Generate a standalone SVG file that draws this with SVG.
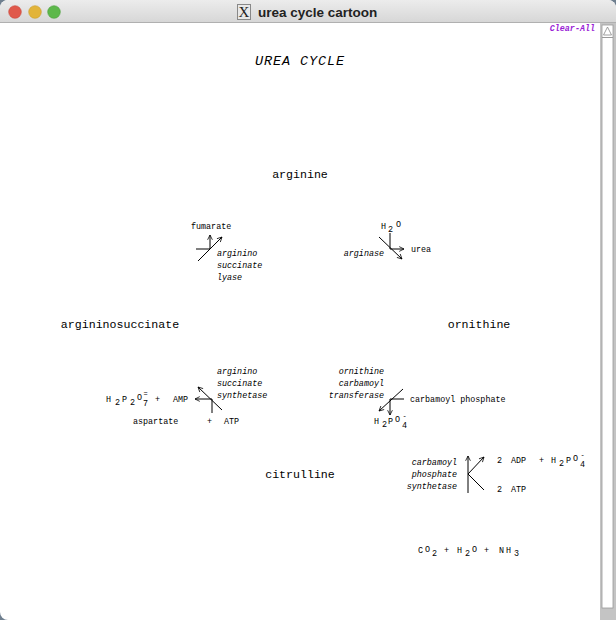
<svg xmlns="http://www.w3.org/2000/svg" width="616" height="620" viewBox="0 0 616 620">
<defs>
<linearGradient id="tb" x1="0" y1="0" x2="0" y2="1"><stop offset="0" stop-color="#ececec"/><stop offset="1" stop-color="#d6d6d6"/></linearGradient>
<marker id="ah" viewBox="0 0 10 10" refX="9" refY="5" markerWidth="6" markerHeight="6" markerUnits="userSpaceOnUse" orient="auto"><path d="M1,1 L9,5 L1,9" fill="none" stroke="#000" stroke-width="1.3"/></marker>
<style>
.big{font-family:"Liberation Mono","DejaVu Sans Mono",monospace;font-size:11.6px;fill:#000}
.sm{font-family:"Liberation Mono","DejaVu Sans Mono",monospace;font-size:8.4px;fill:#000}
.sup{font-family:"Liberation Mono","DejaVu Sans Mono",monospace;font-size:7px;fill:#000}
.it{font-family:"Liberation Mono","DejaVu Sans Mono",monospace;font-size:8.4px;font-style:italic;fill:#000}
.ln{stroke:#000;stroke-width:1;fill:none}
.ar{stroke:#000;stroke-width:1;fill:none;marker-end:url(#ah)}
</style>
</defs>
<rect width="616" height="620" fill="#6f7f8f"/>
<rect x="0" y="0" width="616" height="620" rx="8" fill="#fff"/>
<g id="window-chrome">
<path d="M0,23 V8 A8,8 0 0 1 8,0 H608 A8,8 0 0 1 616,8 V23 Z" fill="url(#tb)"/>
<line x1="0" y1="22.5" x2="616" y2="22.5" stroke="#b0b0b0"/>
<circle cx="15" cy="12" r="6.3" fill="#e0594b" stroke="#c9473a" stroke-width="0.6"/>
<circle cx="35" cy="12" r="6.3" fill="#e2b43a" stroke="#c99d2c" stroke-width="0.6"/>
<circle cx="54" cy="12" r="6.3" fill="#5db84b" stroke="#4c9e3c" stroke-width="0.6"/>
<rect x="237.5" y="4.5" width="13" height="15" fill="#e8e8e8" stroke="#888"/>
<text x="244" y="17" text-anchor="middle" font-family="Liberation Serif,serif" font-size="15" fill="#222">X</text>
<text x="258" y="17" font-family="Liberation Sans,Arial,sans-serif" font-size="13.5" font-weight="bold" fill="#222">urea cycle cartoon</text>
<rect x="600" y="23" width="16" height="597" fill="#c4c4c4"/>
<rect x="602" y="25" width="11" height="583" fill="#fff" stroke="#999" stroke-width="0.8"/>
<path d="M607.5,27 L603.5,35 L611.5,35 Z" fill="#fff" stroke="#888" stroke-width="0.8"/>
<line x1="602" y1="37.5" x2="613" y2="37.5" stroke="#999"/>
<text x="595" y="31" text-anchor="end" font-family="Liberation Mono,monospace" font-size="8.4" font-style="italic" font-weight="bold" fill="#9b1fd6">Clear-All</text>
</g>
<text x="300" y="65" text-anchor="middle" font-family="Liberation Mono,monospace" font-size="13.5" font-style="italic" letter-spacing="0.9" fill="#000">UREA CYCLE</text>
<g id="arginine"><text class="big" x="300" y="178" text-anchor="middle">arginine</text></g>
<g id="argininosuccinate"><text class="big" x="120" y="328" text-anchor="middle">argininosuccinate</text></g>
<g id="ornithine"><text class="big" x="479" y="328" text-anchor="middle">ornithine</text></g>
<g id="citrulline"><text class="big" x="300" y="478" text-anchor="middle">citrulline</text></g>
<g id="connectors">
<line class="ln" x1="196" y1="249" x2="210" y2="249"/>
<line class="ar" x1="210" y1="249" x2="210" y2="235"/>
<line class="ar" x1="198" y1="261" x2="222" y2="237"/>
<line class="ln" x1="390" y1="233" x2="390" y2="249"/>
<line class="ar" x1="390" y1="249" x2="404" y2="249"/>
<line class="ar" x1="379" y1="237" x2="402" y2="259"/>
<line class="ar" x1="222" y1="410" x2="198" y2="387"/>
<line class="ar" x1="212" y1="399" x2="195" y2="399"/>
<line class="ln" x1="212" y1="399" x2="212" y2="413"/>
<line class="ar" x1="403" y1="389" x2="379" y2="411"/>
<line class="ln" x1="390" y1="399" x2="404" y2="399"/>
<line class="ar" x1="390" y1="399" x2="390" y2="415"/>
<line class="ar" x1="468" y1="493" x2="468" y2="456"/>
<line class="ar" x1="468" y1="474" x2="484" y2="457"/>
<line class="ln" x1="468" y1="474" x2="484" y2="490"/>
</g>
<g id="lyase">
<text class="sm" x="191" y="229">fumarate</text>
<text class="it" x="217" y="256">arginino</text>
<text class="it" x="217" y="268">succinate</text>
<text class="it" x="217" y="280">lyase</text>
</g>
<g id="arginase">
<text class="sm" x="381" y="229">H</text><text class="sm" x="388" y="232">2</text><text class="sm" x="396" y="227">O</text>
<text class="it" x="384" y="256" text-anchor="end">arginase</text>
<text class="sm" x="411" y="252">urea</text>
</g>
<g id="synthetase">
<text class="it" x="217" y="374">arginino</text>
<text class="it" x="217" y="386">succinate</text>
<text class="it" x="217" y="398">synthetase</text>
<text class="sm" x="106" y="402">H</text><text class="sm" x="115" y="405">2</text><text class="sm" x="122" y="402">P</text><text class="sm" x="130" y="405">2</text><text class="sm" x="137" y="400">O</text><text class="sm" x="143" y="406">7</text><text class="sup" x="143.5" y="396">=</text>
<text class="sm" x="155" y="402">+</text>
<text class="sm" x="173" y="402">AMP</text>
<text class="sm" x="133" y="424">aspartate</text>
<text class="sm" x="207" y="424">+</text>
<text class="sm" x="224" y="424">ATP</text>
</g>
<g id="transcarbamoylase">
<text class="it" x="384" y="374" text-anchor="end">ornithine</text>
<text class="it" x="384" y="386" text-anchor="end">carbamoyl</text>
<text class="it" x="384" y="398" text-anchor="end">transferase</text>
<text class="sm" x="410" y="402">carbamoyl phosphate</text>
<text class="sm" x="374" y="424">H</text><text class="sm" x="382" y="427">2</text><text class="sm" x="388" y="424">P</text><text class="sm" x="395" y="422">O</text><text class="sm" x="402" y="428">4</text><text class="sup" x="402.5" y="418">-</text>
</g>
<g id="cps">
<text class="it" x="457" y="465" text-anchor="end">carbamoyl</text>
<text class="it" x="457" y="477" text-anchor="end">phosphate</text>
<text class="it" x="457" y="489" text-anchor="end">synthetase</text>
<text class="sm" x="497" y="463">2</text><text class="sm" x="511" y="463">ADP</text>
<text class="sm" x="539" y="463">+</text>
<text class="sm" x="551" y="463">H</text><text class="sm" x="559" y="466">2</text><text class="sm" x="566" y="463">P</text><text class="sm" x="573" y="461">O</text><text class="sm" x="580" y="467">4</text><text class="sup" x="580.5" y="457">-</text>
<text class="sm" x="497" y="492">2</text><text class="sm" x="511" y="492">ATP</text>
</g>
<g id="substrates">
<text class="sm" x="418" y="553">C</text><text class="sm" x="425" y="552">O</text><text class="sm" x="432" y="556">2</text>
<text class="sm" x="444" y="553">+</text>
<text class="sm" x="457" y="553">H</text><text class="sm" x="465" y="556">2</text><text class="sm" x="472" y="552">O</text>
<text class="sm" x="484" y="553">+</text>
<text class="sm" x="499" y="553">N</text><text class="sm" x="506" y="553">H</text><text class="sm" x="514" y="556">3</text>
</g>
</svg>
